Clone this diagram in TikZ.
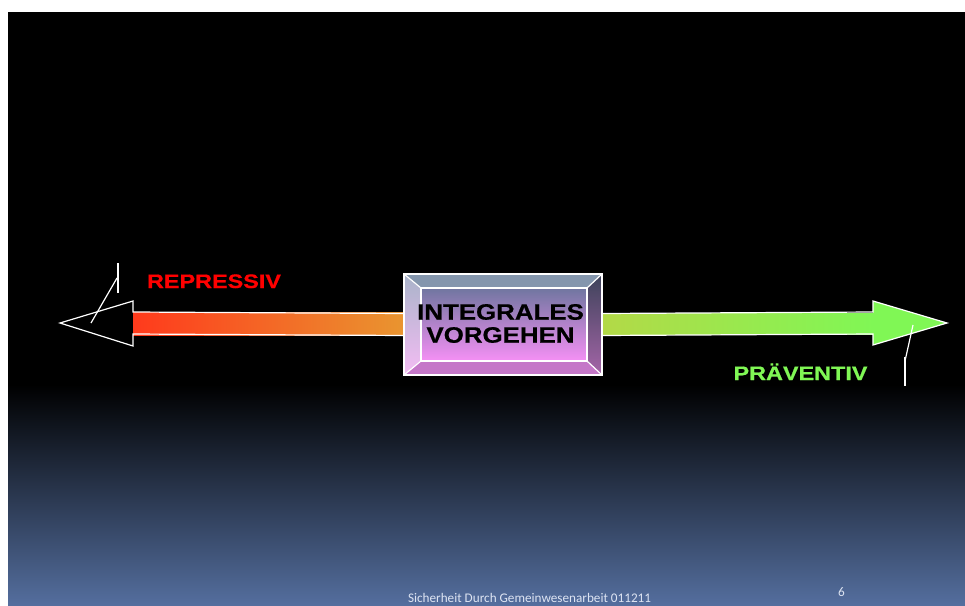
\documentclass[tikz,border=0pt]{standalone}
\usepackage{fontspec}
\setmainfont{Liberation Sans}
\newfontfamily\heavyfont{Liberation Sans}[FakeBold=0.6, BoldFont={Liberation Sans Bold}]
\newfontfamily\footfont{Carlito}
\usepackage{tikz}
\usetikzlibrary{calc}
\definecolor{redstart}{HTML}{FF3A1C}
\definecolor{orangeend}{HTML}{E99530}
\definecolor{limestart}{HTML}{B3D947}
\definecolor{greenend}{HTML}{80F755}
\definecolor{slideblue}{HTML}{546E9E}
\definecolor{foottext}{HTML}{DDE4F2}

\begin{document}
\begin{tikzpicture}[x=1pt, y=-1pt, every node/.style={inner sep=0, outer sep=0},
    outline/.style={draw=white, line width=1.2pt, line join=miter},
    sidetext/.style={font=\heavyfont\bfseries\fontsize{19.5}{21}\selectfont, xscale=1.2}]
        \useasboundingbox (0,0) rectangle (965,605);
        \fill[white] (0,0) rectangle (965,605);
        \fill[black] (8,12) rectangle (965,385);
        \shade[top color=black, bottom color=slideblue] (8,384.5) rectangle (965,605);

        \node[minimum width=198pt, minimum height=101pt] (box) at (503,324.5) {};
        \node[minimum width=166pt, minimum height=73pt] (core) at (504,324.5) {};

        \coordinate (ltip) at (60,323);
        \coordinate (lback) at (133,323);
        \coordinate (rtip) at (947,323);
        \coordinate (rback) at (873,323);

        \shade[left color=redstart, right color=orangeend]
            ($(lback)+(0,-11)$) rectangle ($(box.west)+(0,11)$);
        \shade[left color=limestart, right color=greenend]
            ($(box.east)+(0,-11)$) rectangle ($(rback)+(0,11)$);
        \fill[greenend] ($(rback)+(0,-22)$) -- (rtip) -- ($(rback)+(0,22)$) -- cycle;

        \draw[outline] ($(box.west)+(0,-11)$) -- ($(lback)+(0,-11)$) -- ($(lback)+(0,-22)$)
            -- (ltip) -- ($(lback)+(0,23)$) -- ($(lback)+(0,11)$) -- ($(box.west)+(0,11)$);
        \draw[outline] ($(box.east)+(0,-11)$) -- ($(rback)+(0,-11)$) -- ($(rback)+(0,-22)$)
            -- (rtip) -- ($(rback)+(0,22)$) -- ($(rback)+(0,11)$) -- ($(box.east)+(0,11)$);

        \fill[fill={rgb,255:red,132;green,150;blue,173}] (box.north west) -- (box.north east)
            -- (core.north east) -- (core.north west) -- cycle;
        \shade[top color={rgb,255:red,169;green,179;blue,201}, bottom color={rgb,255:red,244;green,189;blue,244}]
            (box.north west) -- (core.north west) -- (core.south west) -- (box.south west) -- cycle;
        \shade[top color={rgb,255:red,61;green,67;blue,90}, bottom color={rgb,255:red,165;green,101;blue,168}]
            (box.north east) -- (box.south east) -- (core.south east) -- (core.north east) -- cycle;
        \fill[fill={rgb,255:red,197;green,119;blue,200}] (box.south west) -- (core.south west)
            -- (core.south east) -- (box.south east) -- cycle;
        \shade[top color={rgb,255:red,112;green,118;blue,160}, bottom color={rgb,255:red,245;green,144;blue,245}]
            (core.north west) rectangle (core.south east);
        \draw[outline] (box.north west) rectangle (box.south east);
        \draw[outline] (core.north west) rectangle (core.south east);
        \draw[outline] (box.north west) -- (core.north west);
        \draw[outline] (box.north east) -- (core.north east);
        \draw[outline] (box.south west) -- (core.south west);
        \draw[outline] (box.south east) -- (core.south east);

        \node[align=center, font=\heavyfont\bfseries\fontsize{22.3}{23}\selectfont, xscale=1.16] (integral) at (500.5,323.5)
            {INTEGRALES\\VORGEHEN};
        \node[sidetext, text=red, anchor=base] (repressiv) at (214,288) {REPRESSIV};
        \node[sidetext, text=greenend, anchor=base] (praeventiv) at (800.5,380) {PRÄVENTIV};

        \coordinate (lmtop) at (118,263);
        \coordinate (lmbot) at (118,293);
        \coordinate (lmjoin) at (117,278);
        \coordinate (lmend) at (91,323);
        \draw[white, line width=1.2pt] (lmtop) -- (lmbot);
        \draw[white, line width=1.2pt] (lmjoin) -- (lmend);
        \coordinate (rmtop) at (905,357);
        \coordinate (rmbot) at (905,386);
        \coordinate (rmjoin) at (905,361);
        \coordinate (rmend) at (913,325);
        \draw[white, line width=1.2pt] (rmtop) -- (rmbot);
        \draw[white, line width=1.2pt] (rmjoin) -- (rmend);

        \node[anchor=base west, text=foottext, font=\footfont\fontsize{13.2}{14}\selectfont] (footer) at (408,602)
            {Sicherheit Durch Gemeinwesenarbeit 011211};
        \node[anchor=base west, text=foottext, font=\footfont\fontsize{13.2}{14}\selectfont] (pagenum) at (838,596) {6};
    \end{tikzpicture}
\end{document}
